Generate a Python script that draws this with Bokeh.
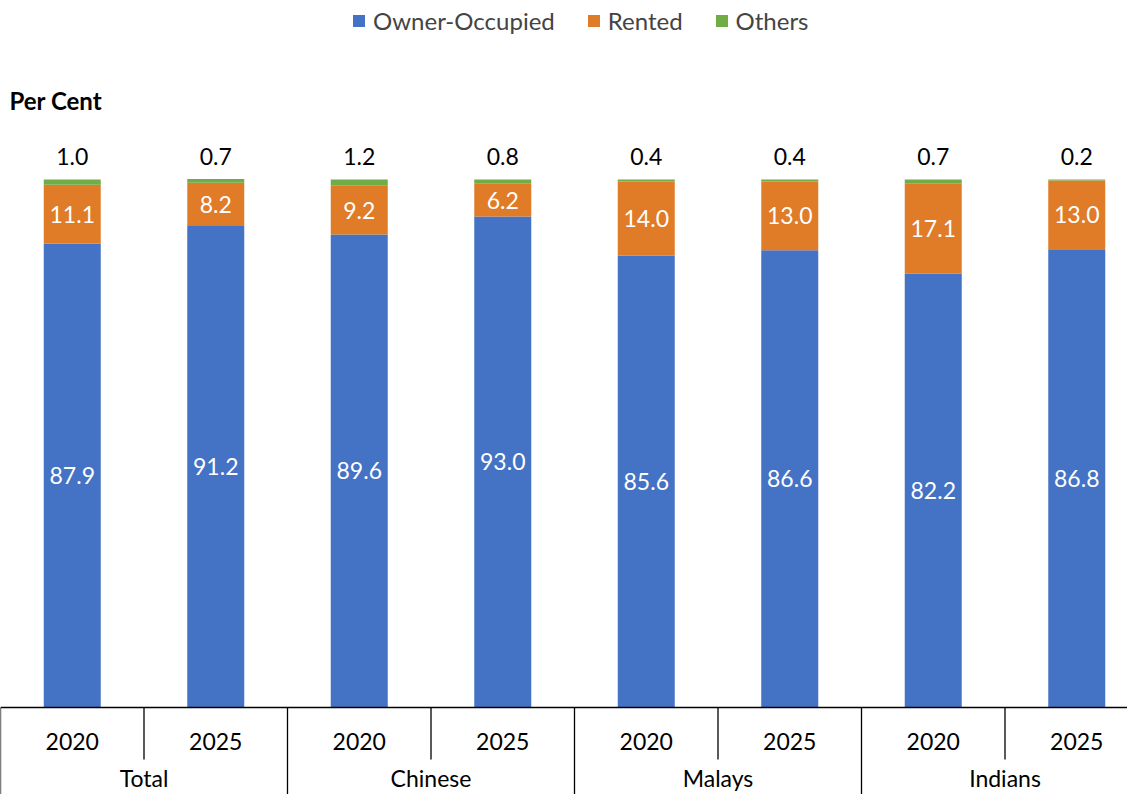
import numpy as np
from bokeh.plotting import figure
from bokeh.models import ColumnDataSource, Range1d, Legend, LegendItem
from bokeh.core.properties import value
from bokeh.embed import file_html
from bokeh.resources import INLINE

groups = ["Total", "Chinese", "Malays", "Indians"]
years = ["2020", "2025"]
owner = [87.9, 91.2, 89.6, 93.0, 85.6, 86.6, 82.2, 86.8]
rented = [11.1, 8.2, 9.2, 6.2, 14.0, 13.0, 17.1, 13.0]
others = [1.0, 0.7, 1.2, 0.8, 0.4, 0.4, 0.7, 0.2]
series = ["Owner-Occupied", "Rented", "Others"]
colors = ["#4472C4", "#E07B28", "#70AD47"]

FONT = "Lato"
W, H = 1127, 794
n = len(owner)
x = np.arange(n) + 0.5
year_labels = [y for g in groups for y in years]

src = ColumnDataSource(dict(
    x=x, owner=owner, rented=rented, others=others,
    owner_lbl=[f"{v:.1f}" for v in owner],
    rented_lbl=[f"{v:.1f}" for v in rented],
    others_lbl=[f"{v:.1f}" for v in others],
    owner_mid=[o / 2 for o in owner],
    rented_mid=[o + r / 2 for o, r in zip(owner, rented)],
    top=[o + r + t for o, r, t in zip(owner, rented, others)],
    year=year_labels,
))

px_per_x = 143.5
px_per_y = 5.28
base_px = 715 - 8  # pixel of y=0 measured from frame top
p = figure(width=W, height=H, output_backend="svg", toolbar_location=None,
           x_range=Range1d(0, W / px_per_x),
           y_range=Range1d(-(H - base_px) / px_per_y, base_px / px_per_y),
           min_border=0, outline_line_color=None)
p.axis.visible = False
p.grid.visible = False
p.background_fill_color = "white"

rs = p.vbar_stack(["owner", "rented", "others"], x="x", width=57 / px_per_x,
                  color=colors, source=src, line_color=None)

p.text(x="x", y="owner_mid", text="owner_lbl", source=src, text_color="white",
       text_font=value(FONT), text_font_size="23px", text_align="center",
       text_baseline="middle")
p.text(x="x", y="rented_mid", text="rented_lbl", source=src, text_color="white",
       text_font=value(FONT), text_font_size="23px", text_align="center",
       text_baseline="middle")
p.text(x="x", y=104.4, text="others_lbl", source=src, text_color="black",
       text_font=value(FONT), text_font_size="23px", text_align="center",
       text_baseline="middle")

# category axis box
xmax = W / px_per_x
ymin = -(H - base_px) / px_per_y
p.segment(x0=[0], y0=[0], x1=[xmax], y1=[0], line_color="black", line_width=1.3)
gb = [0, 2, 4, 6]
p.segment(x0=gb, y0=[0] * 4, x1=gb, y1=[ymin] * 4, line_color="black", line_width=1.3)
ib = [1, 3, 5, 7]
p.segment(x0=ib, y0=[0] * 4, x1=ib, y1=[-52 / px_per_y] * 4, line_color="black", line_width=1.3)

p.text(x="x", y=-34 / px_per_y, text="year", source=src, text_color="black",
       text_font=value(FONT), text_font_size="23px", text_align="center",
       text_baseline="middle")
p.text(x=[1, 3, 5, 7], y=[-70 / px_per_y] * 4, text=groups, text_color="black",
       text_font=value(FONT), text_font_size="23px", text_align="center",
       text_baseline="middle")

p.text(x=[9 / px_per_x], y=[(715 - 108) / px_per_y], text=["Per Cent"],
       text_color="black", text_font=value(FONT), text_font_size="24px",
       text_font_style="bold", text_align="left", text_baseline="middle")

legend = Legend(items=[LegendItem(label=s, renderers=[r]) for s, r in zip(series, rs)],
                orientation="horizontal", location=(351, H - 35),
                glyph_width=15, glyph_height=15, label_standoff=7, spacing=31,
                label_height=30, padding=0, margin=0,
                label_text_font=FONT, label_text_font_size="24px",
                border_line_color=None, background_fill_alpha=0)
p.add_layout(legend)

open("out.html", "w").write(file_html(p, INLINE))
